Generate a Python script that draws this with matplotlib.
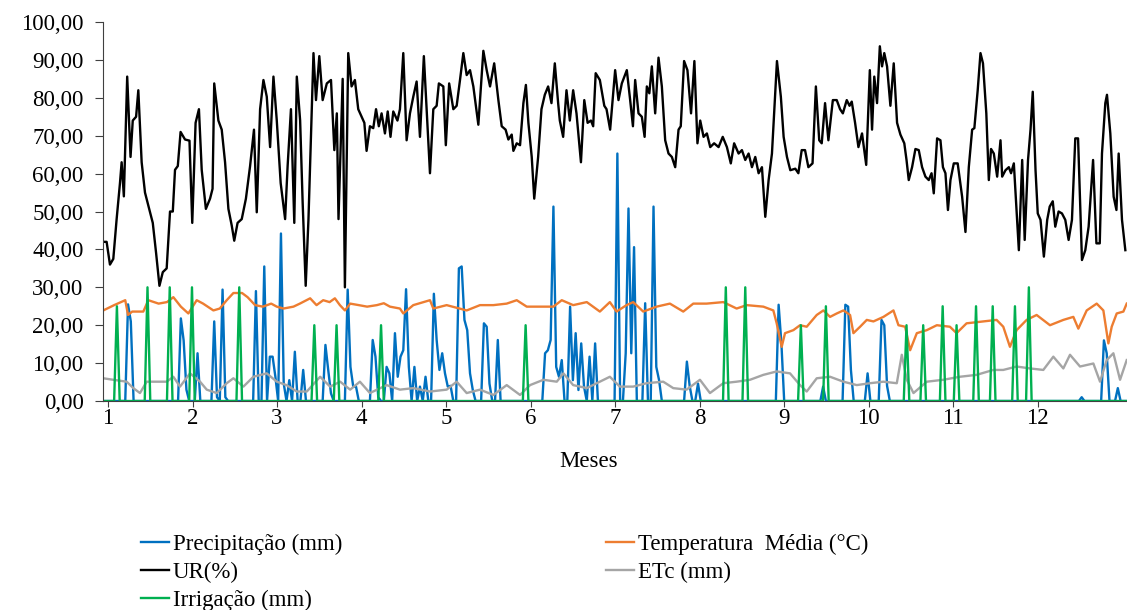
import numpy as np
import matplotlib
matplotlib.use("Agg")
import matplotlib.pyplot as plt

plt.rcParams['font.family'] = ['Liberation Serif', 'DejaVu Serif']

# dias do experimento (eixo x) e rótulos dos meses
meses = [str(m) for m in range(1, 13)]
inicio_mes = [1.8 + 30.4 * (m - 1) for m in range(1, 13)]

# umidade relativa (%)
ur_dia = [0.1, 1.3, 2.5, 3.7, 4.9, 6.1, 6.7, 7.5, 8.7, 9.9, 10.7, 11.9, 12.7, 13.9, 15.1, 16.3, 17.9, 19.1,
          20.3, 21.5, 22.9, 24.1, 25.1, 25.9, 26.9, 27.9, 29.5, 31.1, 32.1, 33.3, 34.5, 35.5, 37.0, 38.5,
          39.4, 40.0, 41.5, 42.7, 43.9, 45.1, 46.3, 47.2, 48.4, 49.9, 51.4, 52.9, 54.3, 55.3, 56.5, 57.7,
          58.9, 60.1, 61.3, 62.5, 63.9, 65.5, 66.4, 67.6, 68.8, 69.7, 70.9, 71.8, 72.9, 73.9, 75.7, 76.6,
          77.8, 79.0, 80.5, 82.0, 83.2, 84.1, 84.7, 86.2, 87.0, 88.2, 89.4, 90.6, 91.8, 93.0, 94.0, 94.8,
          96.0, 97.2, 98.2, 99.2, 100.2, 101.4, 102.4, 103.4, 104.4, 105.9, 106.8, 108.0, 109.2, 110.4,
          111.6, 112.8, 114.0, 115.4, 116.4, 117.6, 118.8, 120.0, 120.8, 122.4, 123.3, 124.5, 126.0, 127.2,
          128.4, 129.6, 130.8, 132.0, 133.2, 135.0, 136.8, 138.0, 139.2, 140.7, 142.2, 143.4, 144.8, 145.8,
          147.0, 147.6, 148.8, 150.0, 151.2, 152.1, 153.0, 154.2, 155.1, 156.5, 157.7, 158.9, 160.1, 161.3,
          162.5, 163.7, 164.3, 165.5, 166.7, 167.9, 169.1, 170.3, 171.9, 173.1, 174.3, 175.5, 176.3, 177.2,
          178.7, 180.3, 181.1, 182.4, 184.2, 185.4, 186.6, 188.4, 189.6, 190.6, 191.4, 192.6, 193.8, 194.8,
          195.6, 196.5, 197.4, 198.6, 199.8, 201.0, 202.2, 203.4, 204.6, 205.8, 207.0, 207.8, 209.0, 210.2,
          211.5, 212.7, 213.8, 214.8, 216.0, 217.2, 218.4, 219.8, 221.4, 222.9, 224.4, 225.8, 227.0, 228.6,
          229.8, 231.0, 232.2, 233.4, 234.6, 235.8, 237.0, 238.2, 239.4, 240.6, 242.4, 243.8, 244.8, 246.0,
          247.2, 249.0, 250.1, 251.3, 252.5, 253.7, 255.2, 256.4, 257.6, 258.5, 259.7, 260.9, 262.5, 263.9,
          265.1, 266.1, 267.5, 268.5, 269.3, 270.5, 271.7, 273.0, 274.5, 275.8, 276.6, 277.4, 278.4, 279.4,
          280.2, 281.0, 282.0, 283.2, 284.4, 285.6, 286.8, 288.2, 289.0, 289.8, 291.0, 292.2, 293.4, 294.6,
          295.8, 297.0, 298.0, 298.8, 300.0, 301.2, 302.1, 303.0, 303.9, 304.8, 306.0, 307.4, 309.0, 310.2,
          311.4, 312.6, 313.4, 314.6, 315.6, 316.5, 317.7, 318.6, 319.4, 320.4, 321.6, 322.8, 323.4, 324.6,
          325.8, 326.6, 327.6, 328.5, 329.4, 330.6, 331.5, 332.7, 333.6, 334.4, 335.4, 336.2, 337.2, 338.4,
          339.6, 340.5, 341.6, 342.5, 343.7, 344.9, 346.1, 347.3, 348.5, 349.7, 350.7, 352.1, 353.3, 354.5,
          356.1, 357.3, 358.5, 359.3, 360.5, 361.1, 362.3, 363.5, 364.5, 365.3, 366.5, 367.7]
ur = [42, 42, 36, 37.5, 48, 57.5, 63, 54, 85.6, 64.4, 74, 75, 82, 63, 55, 51.6, 47, 39, 30.4, 34, 35, 50, 50,
      61, 62, 71, 69, 68.7, 47, 73.4, 77, 61, 50.7, 53.4, 56, 83.8, 74, 71.6, 63, 50.7, 46.3, 42.3, 47, 48,
      53.4, 62, 71.6, 49.8, 77, 84.7, 80.3, 67, 85.6, 74, 57.5, 48, 62, 77, 47, 85.6, 74, 52.5, 30.4, 48,
      91.8, 79.4, 91, 79.4, 83.8, 84.7, 66.2, 75.9, 48, 85, 30, 91.8, 83, 84.7, 77, 75, 73.4, 66, 72.5, 72,
      77, 72.5, 75.9, 70.6, 76.4, 69.7, 76.4, 74, 77, 91.8, 68.8, 75.9, 80.3, 84.3, 69.7, 91, 77, 60.1, 77,
      77.9, 83.8, 83, 67.5, 83.8, 77, 77.9, 84.7, 91.8, 86, 87.3, 83, 72.9, 92.4, 87.3, 83, 89.1, 79.4,
      72.5, 71.6, 69, 70.3, 66, 68, 67.5, 78.6, 83.4, 73.4, 64.4, 53.4, 64.4, 77, 80.8, 83, 78.6, 89.1,
      78.6, 74, 69.7, 82, 74, 82, 75.9, 63, 79.4, 73.4, 74, 72.5, 86.5, 84.7, 77.9, 77, 71.6, 87.3, 79.4,
      83.8, 87.3, 79.4, 72.5, 84.7, 75.9, 75, 69.7, 83, 81.2, 88.3, 75.9, 90.6, 83, 68.8, 65.3, 64.4,
      61.7, 71.6, 72.5, 89.7, 87.3, 75.9, 89.7, 68, 74, 69.7, 70.6, 67, 68, 67, 69.7, 67, 62.7, 68, 65.3,
      66.2, 63.6, 65.3, 61.7, 64.4, 60.1, 61.7, 48.6, 58.3, 65.3, 89.7, 80.3, 69.7, 64.4, 60.9, 61.3,
      60.1, 66.2, 66.2, 61.7, 62.7, 83, 68.8, 68, 78.6, 68.8, 79.4, 79.4, 77, 75.9, 79.4, 77.9, 79, 73.4,
      67, 70.6, 62.3, 87.3, 71.6, 85.6, 78.6, 93.6, 88.3, 91.8, 88.3, 77.9, 89.1, 73.4, 70.3, 68, 63.6,
      58.3, 61.7, 66.5, 66.2, 61.7, 59.2, 58.3, 60.1, 54.8, 69.3, 68.8, 61.7, 60.1, 50.4, 58.3, 62.7,
      62.7, 53.9, 44.6, 61.7, 71.6, 72, 82, 91.8, 89.1, 75.9, 58.3, 66.5, 65.3, 59.2, 68.8, 59.2, 60.9,
      61.7, 60.1, 62.7, 51.3, 39.8, 63.6, 42.5, 63.6, 71.6, 81.6, 60.9, 49.5, 47.8, 38.1, 47.8, 51.3,
      52.7, 46, 50, 49.5, 47.8, 42.5, 47.8, 69.3, 69.3, 37.2, 39.8, 46, 63.6, 41.6, 41.6, 65.3, 78.6,
      80.8, 70.6, 53.9, 50.4, 65.3, 47.8, 39.8]

# temperatura média (°C)
temp_dia = [0.1, 4, 8, 9, 10.5, 14.5, 16.3, 20, 23, 25.3, 28, 30.7, 33.7, 36, 39.7, 42, 44.5, 46.9, 50, 52,
            54.7, 57.5, 60.5, 62.5, 64.9, 68.5, 70.8, 74.5, 76.8, 79.2, 81.5, 83.4, 85.2, 87, 88.9, 92, 95,
            98.5, 101, 103.2, 106.8, 108, 111.6, 117.6, 118.8, 123.6, 130.8, 135.6, 140.4, 145.2, 148.8,
            152.4, 157.2, 162, 165, 169.1, 174, 178.7, 182.3, 184.7, 188.3, 190.7, 194.3, 199.1, 203.9,
            208.7, 212.3, 217.1, 223.1, 227.9, 231.5, 237.5, 241.1, 242.3, 244.1, 245.3, 248.3, 250.7,
            253.1, 256.7, 259.1, 261.5, 263.9, 266.3, 268.7, 269.9, 272.3, 274.7, 277.1, 280.7, 284.3,
            286.1, 288.5, 290.3, 292.7, 296.3, 299.9, 304.6, 307.0, 310.6, 316.6, 321.4, 323.8, 326.2,
            328.6, 332.2, 335.8, 340.6, 345.4, 349.0, 350.8, 353.8, 357.4, 359.8, 361.6, 362.8, 364.6,
            367.0, 368.2]
temp = [23.9, 25.3, 26.6, 22.7, 23.6, 23.6, 26.6, 25.7, 26.1, 27.4, 24.9, 23.1, 26.6, 25.7, 23.9, 24.4,
        26.6, 28.5, 28.5, 27.4, 25.3, 24.9, 25.7, 24.9, 24.4, 24.9, 25.7, 27.1, 25.3, 26.6, 26.1, 27.1,
        25.3, 23.9, 25.7, 25.3, 24.9, 25.3, 25.8, 24.9, 24.4, 23.1, 25.3, 26.6, 24.4, 25.3, 23.9, 25.3,
        25.3, 25.7, 26.6, 24.9, 24.9, 24.9, 26.6, 25.3, 26.1, 23.6, 26.1, 23.6, 25.3, 26.1, 23.6, 24.9,
        25.7, 23.6, 25.7, 25.7, 26.1, 24.4, 25.3, 24.9, 23.9, 20.5, 14.3, 17.9, 18.7, 20, 19.6, 22.7, 23.9,
        22.2, 23.1, 23.9, 22.7, 17.9, 19.6, 21.4, 21, 22.2, 23.9, 20, 19.6, 13.4, 17.9, 18.7, 20, 19.6,
        17.9, 20.5, 21, 21.4, 19.6, 14.3, 18.7, 21.4, 22.7, 20, 21.4, 22.2, 19.1, 23.9, 25.7, 23.9, 15.2,
        19.6, 23.1, 23.6, 25.7]

# ETc (mm)
etc_dia = [0.1, 3.7, 8.5, 10.9, 13.3, 15.7, 19.3, 22.9, 25.3, 27.7, 31.3, 34.9, 37.3, 40.9, 44.5, 46.9,
           50.5, 54.1, 58.9, 62.5, 66, 69.7, 73.3, 78.1, 81.7, 85.3, 88.9, 92.4, 96, 102, 106.8, 111.6,
           117.6, 123.6, 127.2, 130.8, 135.6, 140.4, 145.2, 150, 153.6, 158.4, 163.2, 165.6, 169.1, 174,
           178.7, 182.3, 185.9, 190.7, 195.5, 201.5, 205.1, 209.9, 214.7, 218.3, 223.1, 227.9, 232.7,
           237.5, 242.3, 247.1, 250.7, 253.1, 256.7, 261.5, 266.3, 271.1, 275.9, 280.7, 285.5, 287.3,
           289.1, 291.5, 296.3, 302.2, 308.2, 314.2, 320.2, 323.8, 328.6, 333.4, 338.2, 341.8, 345.4,
           347.8, 351.4, 356.2, 358.6, 361, 363.4, 365.8, 368.2]
etc = [6, 5.6, 5.1, 3.4, 2.1, 5.1, 5.1, 5.1, 6.4, 3.8, 7.3, 5.1, 3, 2.1, 4.7, 6, 3.8, 6.4, 7.3, 5.1, 4.2,
       2.5, 2.5, 6.4, 3.8, 5.1, 3, 5.1, 2.1, 4.2, 3, 3.4, 2.5, 3, 5.1, 2.1, 3, 1.6, 4.2, 1.6, 4.2, 5.6, 5.1,
       7.3, 4.2, 3.4, 5.1, 6.4, 3.8, 3.8, 4.7, 5.1, 3.4, 3, 5.6, 2.1, 4.7, 5.1, 5.6, 6.9, 7.8, 7.3, 4.2,
       2.5, 6, 6.4, 5.1, 4.2, 4.7, 5.1, 4.7, 12.2, 5.6, 2.1, 5.1, 5.6, 6.4, 6.9, 8.2, 8.2, 9.1, 8.6, 8.2,
       11.7, 8.6, 12.2, 9.1, 9.9, 5.1, 10.8, 12.6, 5.6, 10.8]

# precipitação diária (mm), dias com chuva
prec_dia = [9, 10, 28, 29, 30, 34, 40, 41, 43, 44, 55, 58, 60, 61, 62, 64, 65, 67, 69, 72, 80, 81, 82, 88,
            89, 90, 91, 97, 98, 99, 102, 103, 105, 106, 107, 108, 109, 110, 112, 114, 116, 119, 120, 121,
            122, 123, 124, 125, 128, 129, 130, 131, 132, 133, 137, 138, 139, 142, 159, 160, 161, 162, 163,
            164, 165, 168, 169, 170, 171, 172, 173, 175, 177, 185, 188, 189, 190, 191, 195, 198, 199, 200,
            210, 211, 214, 243, 244, 259, 267, 268, 269, 275, 280, 281, 282, 352, 360, 361, 365]
prec_mm = [25.5, 21, 21.8, 16, 3, 12.6, 21, 1, 29.4, 1, 29, 35.5, 11.7, 11.7, 6.4, 44.2, 4.6, 5.5, 13, 8.2,
           14.8, 8.2, 2, 29.4, 9, 3.8, 3.8, 16.1, 11.7, 1, 9, 7.3, 17.9, 6.4, 11.7, 13.4, 29.5, 9, 9, 3.8,
           6.4, 28.3, 16.1, 8.2, 12.6, 7.3, 3.8, 4, 35, 35.5, 21.4, 18.7, 7.3, 2.9, 20.5, 19.6, 4.6, 16.1,
           12.6, 13.4, 16.1, 51.3, 9, 6.4, 10.8, 24.9, 5.5, 17.9, 2.9, 15.2, 3.8, 11.7, 15.2, 65.3, 12.6,
           50.8, 12.6, 40.6, 25.8, 51.3, 9, 5.5, 10.4, 4, 4.6, 25.4, 15.2, 3.8, 25.4, 24.9, 8.2, 7.3, 21.4,
           20, 4, 1, 16, 12.6, 3.4]

# irrigação (mm)
irr_dia = [5, 16, 24, 32, 49, 76, 84, 100, 152, 224, 231, 251, 260, 289, 295, 302, 307, 314, 320, 328, 333]
irr_mm = [25, 30, 30, 30, 30, 20, 20, 20, 20, 30, 30, 20, 25, 20, 20, 25, 20, 25, 25, 25, 30]

dias = np.arange(0, 369)
prec = np.zeros(len(dias))
prec[prec_dia] = prec_mm
irr = np.zeros(len(dias))
irr[irr_dia] = irr_mm

fig = plt.figure(figsize=(11.27, 6.10), dpi=100)
ax = fig.add_axes([0.0914, 0.3426, 0.9086, 0.6213])

lw = 1.7
ax.plot(dias, prec, color='#0070C0', lw=lw, label='Precipitação (mm)')
ax.plot(temp_dia, temp, color='#ED7D31', lw=lw, label='Temperatura  Média (°C)')
ax.plot(ur_dia, ur, color='black', lw=lw, label='UR(%)')
ax.plot(etc_dia, etc, color='#A5A5A5', lw=lw, label='ETc (mm)')
ax.plot(dias, irr, color='#00B050', lw=lw, label='Irrigação (mm)')

ax.set_xlim(0, 368.3)
ax.set_ylim(0, 100)
ax.set_yticks(np.arange(0, 101, 10))
ax.set_yticklabels([f"{v:.2f}".replace('.', ',') for v in np.arange(0, 101, 10)])
ax.set_xticks(inicio_mes)
ax.set_xticklabels(meses)
ax.tick_params(labelsize=16.5, color='#404040')
ax.tick_params(axis='y', length=6, pad=8)
ax.tick_params(axis='x', length=4, pad=1)
for s in ['top', 'right']:
    ax.spines[s].set_visible(False)
for s in ['left', 'bottom']:
    ax.spines[s].set_color('#404040')

fig.text(0.522, 0.244, 'Meses', ha='center', va='center', fontsize=16.5)

h, l = ax.get_legend_handles_labels()
ordem = [0, 2, 4, 1, 3]
fig.legend([h[i] for i in ordem], [l[i] for i in ordem], ncol=2, loc='upper left',
           bbox_to_anchor=(0.117, 0.14), bbox_transform=fig.transFigure, frameon=False,
           fontsize=16.5, handlelength=1.22, handletextpad=0.17, labelspacing=0.3,
           columnspacing=11.5, borderaxespad=0)

fig.savefig('out.png', dpi=100)
